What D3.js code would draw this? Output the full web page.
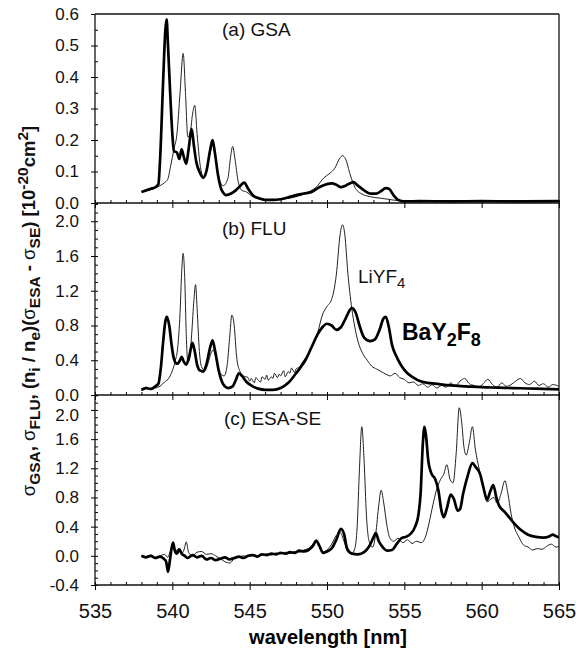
<!DOCTYPE html>
<html>
<head>
<meta charset="utf-8">
<script src="https://cdn.jsdelivr.net/npm/d3@7"></script>
<style>
  body { margin: 0; background: #fff; }
  svg { font-family: "Liberation Sans", Arial, sans-serif; }
  .tick text { fill: #111; }
</style>
</head>
<body>
<div id="chart"></div>
<script>
// wavelength ticks (nm)
const xTicks = [535, 540, 545, 550, 555, 560, 565];
const yTicksA = [0.0, 0.1, 0.2, 0.3, 0.4, 0.5, 0.6];
const yTicksB = [0.0, 0.4, 0.8, 1.2, 1.6, 2.0];
const yTicksC = [-0.4, 0.0, 0.4, 0.8, 1.2, 1.6, 2.0];

// (a) GSA — [wavelength nm, cross section]
const gsaBaY2F8 = [[538.0,0.035],[538.3,0.04],[538.6,0.045],[538.9,0.05],[539.1,0.06],[539.2,0.13],[539.4,0.38],[539.55,0.55],[539.63,0.583],[539.72,0.5],[539.85,0.36],[540.0,0.22],[540.1,0.165],[540.3,0.16],[540.45,0.14],[540.6,0.17],[540.75,0.145],[540.9,0.125],[541.05,0.17],[541.25,0.235],[541.4,0.18],[541.55,0.13],[541.75,0.1],[542.0,0.08],[542.2,0.1],[542.45,0.17],[542.6,0.2],[542.75,0.16],[542.95,0.09],[543.2,0.04],[543.5,0.025],[543.8,0.03],[544.1,0.04],[544.4,0.055],[544.65,0.065],[544.9,0.045],[545.2,0.025],[545.6,0.015],[546.0,0.01],[546.5,0.01],[547.0,0.012],[547.5,0.018],[548.0,0.025],[548.5,0.03],[549.0,0.035],[549.5,0.05],[550.0,0.06],[550.3,0.062],[550.6,0.058],[550.9,0.05],[551.2,0.055],[551.5,0.063],[551.7,0.066],[552.0,0.055],[552.4,0.04],[552.8,0.03],[553.2,0.03],[553.5,0.038],[553.8,0.047],[554.0,0.045],[554.3,0.025],[554.6,0.01],[555.0,0.005],[556.0,0.006],[558.0,0.005],[560.0,0.006],[562.0,0.005],[565.0,0.006]];
const gsaLiYF4 = [[538.5,0.04],[539.0,0.05],[539.5,0.065],[539.7,0.075],[539.9,0.12],[540.1,0.17],[540.3,0.22],[540.5,0.35],[540.7,0.475],[540.85,0.35],[541.0,0.21],[541.15,0.22],[541.3,0.28],[541.45,0.31],[541.6,0.22],[541.8,0.12],[542.0,0.085],[542.2,0.1],[542.45,0.16],[542.6,0.185],[542.8,0.14],[543.0,0.08],[543.3,0.055],[543.6,0.08],[543.75,0.14],[543.9,0.18],[544.05,0.14],[544.25,0.07],[544.5,0.04],[544.8,0.035],[545.2,0.02],[546.0,0.01],[547.0,0.012],[548.0,0.02],[548.8,0.035],[549.3,0.05],[549.8,0.08],[550.2,0.095],[550.5,0.11],[550.8,0.14],[551.0,0.15],[551.2,0.14],[551.5,0.09],[551.8,0.05],[552.2,0.03],[552.8,0.02],[553.5,0.015],[554.2,0.01],[555.0,0.005]];

// (b) FLU
const fluBaY2F8 = [[538.0,0.06],[538.3,0.08],[538.6,0.07],[538.9,0.1],[539.1,0.13],[539.25,0.3],[539.4,0.6],[539.55,0.85],[539.65,0.9],[539.8,0.8],[539.95,0.58],[540.1,0.42],[540.3,0.36],[540.5,0.4],[540.6,0.44],[540.75,0.38],[540.9,0.35],[541.1,0.45],[541.3,0.6],[541.45,0.5],[541.6,0.35],[541.8,0.28],[542.0,0.27],[542.2,0.35],[542.45,0.55],[542.6,0.63],[542.75,0.52],[543.0,0.28],[543.3,0.12],[543.6,0.08],[543.9,0.1],[544.1,0.17],[544.3,0.25],[544.5,0.22],[544.8,0.15],[545.2,0.1],[545.6,0.07],[546.0,0.06],[546.5,0.06],[547.0,0.08],[547.5,0.14],[548.0,0.25],[548.3,0.32],[548.6,0.4],[549.0,0.55],[549.4,0.7],[549.7,0.78],[550.0,0.82],[550.3,0.8],[550.6,0.75],[550.9,0.78],[551.2,0.88],[551.6,1.0],[551.85,0.95],[552.1,0.8],[552.4,0.66],[552.8,0.62],[553.1,0.64],[553.4,0.75],[553.65,0.88],[553.8,0.9],[554.0,0.78],[554.2,0.58],[554.5,0.44],[554.8,0.34],[555.2,0.25],[555.6,0.2],[556.0,0.16],[556.5,0.14],[557.0,0.13],[558.0,0.11],[559.0,0.1],[560.0,0.09],[561.0,0.085],[562.0,0.08],[563.0,0.075],[564.0,0.07],[565.0,0.065]];
const fluLiYF4 = [[538.0,0.05],[538.3,0.09],[538.6,0.06],[538.9,0.08],[539.2,0.1],[539.5,0.15],[539.8,0.2],[540.0,0.28],[540.2,0.4],[540.35,0.55],[540.5,0.95],[540.6,1.4],[540.7,1.63],[540.8,1.35],[540.9,0.7],[541.0,0.38],[541.1,0.4],[541.25,0.7],[541.4,1.1],[541.5,1.27],[541.6,1.0],[541.75,0.5],[541.9,0.32],[542.1,0.28],[542.3,0.36],[542.5,0.48],[542.65,0.52],[542.85,0.4],[543.1,0.25],[543.35,0.22],[543.55,0.35],[543.7,0.65],[543.85,0.92],[544.0,0.8],[544.15,0.45],[544.35,0.28],[544.6,0.22],[544.9,0.2],[545.0,0.16],[545.1,0.19],[545.3,0.14],[545.4,0.2],[545.55,0.17],[545.7,0.15],[545.8,0.21],[546.0,0.18],[546.1,0.23],[546.2,0.17],[546.4,0.21],[546.5,0.19],[546.6,0.25],[546.8,0.2],[546.9,0.24],[547.0,0.22],[547.2,0.28],[547.3,0.21],[547.5,0.27],[547.6,0.25],[547.7,0.31],[547.9,0.26],[548.0,0.3],[548.2,0.32],[548.5,0.4],[548.8,0.47],[549.1,0.58],[549.4,0.72],[549.7,0.92],[550.0,1.02],[550.3,1.1],[550.6,1.38],[550.85,1.85],[551.0,1.96],[551.15,1.85],[551.35,1.4],[551.6,1.0],[551.8,0.78],[552.0,0.62],[552.3,0.48],[552.6,0.4],[552.9,0.33],[553.2,0.3],[553.5,0.27],[553.8,0.24],[554.1,0.22],[554.4,0.25],[554.7,0.2],[555.0,0.18],[555.3,0.14],[555.6,0.15],[555.9,0.11],[556.2,0.13],[556.5,0.09],[556.8,0.12],[557.1,0.08],[557.4,0.11],[557.7,0.09],[558.0,0.14],[558.3,0.1],[558.6,0.16],[558.9,0.19],[559.2,0.13],[559.5,0.11],[559.8,0.09],[560.1,0.13],[560.4,0.18],[560.7,0.12],[561.0,0.09],[561.3,0.14],[561.6,0.1],[561.9,0.12],[562.2,0.16],[562.5,0.19],[562.8,0.14],[563.1,0.12],[563.4,0.16],[563.7,0.11],[564.0,0.13],[564.3,0.09],[564.6,0.12],[565.0,0.1]];

// (c) ESA-SE
const esaBaY2F8 = [[538.0,0.0],[538.3,-0.02],[538.6,0.0],[538.9,-0.03],[539.2,-0.01],[539.45,-0.04],[539.6,-0.08],[539.72,-0.22],[539.85,-0.05],[539.95,0.1],[540.05,0.18],[540.15,0.08],[540.3,0.03],[540.45,0.09],[540.6,0.03],[540.8,0.0],[541.0,-0.03],[541.3,0.01],[541.6,-0.02],[541.9,0.0],[542.2,-0.05],[542.5,-0.03],[542.8,-0.06],[543.1,-0.04],[543.4,-0.02],[543.7,-0.05],[544.0,-0.03],[544.3,-0.01],[544.6,-0.03],[544.9,0.0],[545.2,0.01],[545.5,-0.01],[545.8,0.02],[546.1,0.01],[546.4,0.03],[546.7,0.02],[547.0,0.04],[547.3,0.03],[547.6,0.05],[547.9,0.04],[548.2,0.07],[548.5,0.06],[548.8,0.08],[549.1,0.14],[549.3,0.21],[549.5,0.14],[549.75,0.04],[550.0,0.06],[550.3,0.1],[550.6,0.22],[550.9,0.37],[551.1,0.3],[551.3,0.1],[551.6,0.03],[552.0,0.02],[552.4,0.05],[552.7,0.12],[553.0,0.25],[553.15,0.31],[553.35,0.2],[553.6,0.12],[553.9,0.07],[554.2,0.08],[554.5,0.16],[554.8,0.24],[555.1,0.26],[555.4,0.3],[555.7,0.4],[555.9,0.55],[556.05,0.85],[556.2,1.55],[556.3,1.77],[556.4,1.65],[556.55,1.3],[556.75,1.13],[557.0,1.05],[557.2,0.9],[557.4,0.62],[557.55,0.53],[557.75,0.65],[558.0,0.84],[558.2,0.78],[558.45,0.62],[558.6,0.64],[558.8,0.85],[559.1,1.1],[559.4,1.27],[559.6,1.22],[559.9,1.12],[560.1,0.95],[560.35,0.77],[560.55,0.88],[560.75,0.97],[560.95,0.8],[561.1,0.7],[561.5,0.6],[562.0,0.47],[562.5,0.36],[563.0,0.29],[563.5,0.26],[564.0,0.25],[564.4,0.27],[564.6,0.29],[564.8,0.27],[565.0,0.25]];
const esaLiYF4 = [[538.0,0.0],[538.3,-0.01],[538.6,0.01],[538.9,-0.02],[539.2,0.0],[539.5,0.02],[539.7,-0.02],[539.9,0.08],[540.05,0.12],[540.2,0.06],[540.4,0.1],[540.6,0.03],[540.75,0.08],[540.9,0.19],[541.05,0.05],[541.3,0.0],[541.6,0.05],[541.9,0.06],[542.2,0.02],[542.5,0.03],[542.8,0.0],[543.1,-0.04],[543.4,-0.08],[543.7,-0.1],[544.0,-0.04],[544.3,-0.02],[544.6,0.0],[544.9,-0.01],[545.2,0.02],[545.5,0.0],[545.8,0.01],[546.1,0.03],[546.4,0.01],[546.7,0.04],[547.0,0.03],[547.3,0.05],[547.6,0.03],[547.9,0.06],[548.2,0.05],[548.5,0.08],[548.8,0.1],[549.1,0.16],[549.3,0.2],[549.5,0.13],[549.75,0.05],[550.0,0.08],[550.3,0.16],[550.6,0.28],[550.85,0.32],[551.1,0.2],[551.35,0.05],[551.6,0.03],[551.8,0.1],[551.95,0.4],[552.1,1.2],[552.25,1.77],[552.4,1.3],[552.55,0.55],[552.75,0.18],[552.95,0.12],[553.15,0.3],[553.35,0.7],[553.5,0.9],[553.65,0.75],[553.85,0.45],[554.05,0.25],[554.3,0.2],[554.6,0.24],[554.9,0.18],[555.2,0.22],[555.5,0.17],[555.8,0.2],[556.1,0.18],[556.35,0.25],[556.6,0.45],[556.85,0.7],[557.1,0.92],[557.35,1.05],[557.55,1.12],[557.75,1.25],[557.95,1.05],[558.15,1.0],[558.35,1.4],[558.55,2.03],[558.7,1.85],[558.85,1.5],[559.0,1.38],[559.2,1.55],[559.4,1.77],[559.6,1.45],[559.85,1.18],[560.1,0.95],[560.35,0.74],[560.6,0.78],[560.8,0.8],[561.0,0.72],[561.25,0.85],[561.5,1.03],[561.7,0.85],[561.9,0.58],[562.1,0.4],[562.4,0.26],[562.7,0.15],[563.0,0.12],[563.3,0.08],[563.6,0.1],[563.9,0.09],[564.2,0.13],[564.5,0.16],[564.8,0.12],[565.0,0.13]];

const W = 576, H = 656;
const left = 95, right = 559;

const svg = d3.select("#chart").append("svg")
    .attr("width", W)
    .attr("height", H);

const x = d3.scaleLinear().domain([535, 565]).range([left, right]);

const panels = [
    { id: "a", domain: [0, 0.6], range: [203, 14], ticks: yTicksA, minor: 0.05,
      thick: gsaBaY2F8, thin: gsaLiYF4, label: "(a) GSA", lx: 222, ly: 36 },
    { id: "b", domain: [0, 2.21], range: [395, 203], ticks: yTicksB, minor: 0.1,
      thick: fluBaY2F8, thin: fluLiYF4, label: "(b) FLU", lx: 222, ly: 235 },
    { id: "c", domain: [-0.4, 2.205], range: [585, 395], ticks: yTicksC, minor: 0.1,
      thick: esaBaY2F8, thin: esaLiYF4, label: "(c) ESA-SE", lx: 224, ly: 425 }
];

const fmt = d => d.toFixed(1);

panels.forEach(p => {
    const y = d3.scaleLinear().domain(p.domain).range(p.range);
    const g = svg.append("g").attr("class", "panel-" + p.id);

    // clip
    svg.append("clipPath").attr("id", "clip-" + p.id)
        .append("rect")
        .attr("x", left).attr("y", p.range[1])
        .attr("width", right - left).attr("height", p.range[0] - p.range[1]);

    // y axis: labels + outward major ticks
    const yAxisG = g.append("g")
        .attr("transform", `translate(${left},0)`)
        .call(d3.axisLeft(y).tickValues(p.ticks).tickFormat(fmt).tickSize(4).tickPadding(12))
        .call(a => a.select(".domain").remove())
        .call(a => a.selectAll("text").style("font-size", "17px"));
    // the top label of (c) sits a little low in the original, just under (b)'s 0.0
    if (p.id === "c") {
        yAxisG.selectAll(".tick text").filter(d => d === 2.0).attr("dy", "0.6em");
    }

    // inward minor ticks
    const minorVals = d3.range(Math.ceil(p.domain[0] / p.minor), Math.floor(p.domain[1] / p.minor) + 1)
        .map(k => k * p.minor);
    g.append("g")
        .attr("transform", `translate(${left},0)`)
        .call(d3.axisRight(y).tickValues(minorVals).tickFormat("").tickSize(3))
        .call(a => a.select(".domain").remove());

    // bottom axis of the panel
    const bottom = p.range[0];
    g.append("g")
        .attr("transform", `translate(0,${bottom})`)
        .call(d3.axisBottom(x).tickValues(xTicks).tickSize(5).tickPadding(14)
            .tickFormat(p.id === "c" ? d3.format("d") : ""))
        .call(a => a.select(".domain").remove())
        .call(a => a.selectAll("text").style("font-size", "20px"));
    g.append("g")
        .attr("transform", `translate(0,${bottom})`)
        .call(d3.axisTop(x).tickValues(d3.range(535, 566, 1)).tickFormat("").tickSize(3))
        .call(a => a.select(".domain").remove());

    g.append("line")
        .attr("x1", left).attr("x2", right)
        .attr("y1", bottom).attr("y2", bottom)
        .attr("stroke", "#111").attr("stroke-width", 1.3);

    const line = d3.line()
        .x(d => x(d[0]))
        .y(d => y(d[1]))
        .curve(d3.curveMonotoneX);

    const plot = g.append("g").attr("clip-path", `url(#clip-${p.id})`);
    plot.append("path")
        .datum(p.thin)
        .attr("fill", "none")
        .attr("stroke", "#222")
        .attr("stroke-width", 1)
        .attr("d", line);
    plot.append("path")
        .datum(p.thick)
        .attr("fill", "none")
        .attr("stroke", "#000")
        .attr("stroke-width", 2.7)
        .attr("stroke-linejoin", "round")
        .attr("d", line);

    g.append("text")
        .attr("x", p.lx).attr("y", p.ly)
        .style("font-size", "19px")
        .attr("fill", "#111")
        .text(p.label);

    if (p.id === "b") {
        const t1 = g.append("text")
            .attr("x", 358).attr("y", 283)
            .style("font-size", "19px").attr("fill", "#111");
        t1.append("tspan").text("LiYF");
        t1.append("tspan").attr("dy", 5).style("font-size", "15px").text("4");

        const t2 = g.append("text")
            .attr("x", 402).attr("y", 340)
            .style("font-size", "23px").style("font-weight", "bold").attr("fill", "#000");
        t2.append("tspan").text("BaY");
        t2.append("tspan").attr("dy", 6).style("font-size", "18px").text("2");
        t2.append("tspan").attr("dy", -6).text("F");
        t2.append("tspan").attr("dy", 6).style("font-size", "18px").text("8");
    }
});

// frame: left spine, top, right
svg.append("line").attr("x1", left).attr("x2", left).attr("y1", 14).attr("y2", 585)
    .attr("stroke", "#111").attr("stroke-width", 1.3);
svg.append("line").attr("x1", left).attr("x2", right).attr("y1", 14).attr("y2", 14)
    .attr("stroke", "#111").attr("stroke-width", 1.3);
svg.append("line").attr("x1", right).attr("x2", right).attr("y1", 14).attr("y2", 585)
    .attr("stroke", "#111").attr("stroke-width", 1.3);

// x axis title
svg.append("text")
    .attr("x", 328).attr("y", 644)
    .attr("text-anchor", "middle")
    .style("font-size", "20px").style("font-weight", "bold")
    .text("wavelength [nm]");

// y axis title with sub/superscripts
const yt = svg.append("text")
    .attr("transform", "translate(35,311) rotate(-90)")
    .attr("text-anchor", "middle")
    .style("font-size", "18.5px").style("font-weight", "bold")
    .attr("fill", "#111");
const parts = [
    ["σ", 0, "n"], ["GSA", 5, "s"], [", ", -5, "n"], ["σ", 0, "n"], ["FLU", 5, "s"],
    [", (n", -5, "n"], ["i", 5, "s"], [" / n", -5, "n"], ["e", 5, "s"], [")(", -5, "n"],
    ["σ", 0, "n"], ["ESA", 5, "s"], [" - ", -5, "n"], ["σ", 0, "n"], ["SE", 5, "s"],
    [")  [10", -5, "n"], ["-20", -7, "s"], ["cm", 7, "n"], ["2", -7, "s"], ["]", 7, "n"]
];
parts.forEach(([t, dy, kind]) => {
    const ts = yt.append("tspan").attr("dy", dy).text(t);
    if (kind === "s") ts.style("font-size", "15.5px");
    if (t === "σ") ts.style("font-weight", "normal");
});
</script>
</body>
</html>
